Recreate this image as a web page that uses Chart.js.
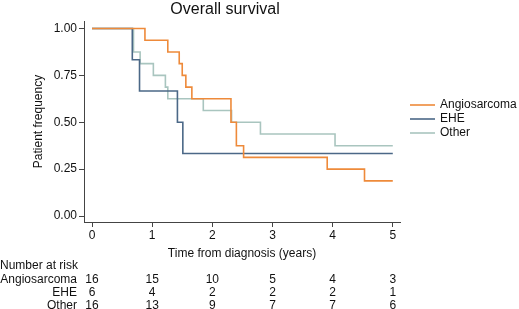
<!DOCTYPE html>
<html>
<head>
<meta charset="utf-8">
<script src="https://cdn.jsdelivr.net/npm/chart.js@4.4.1/dist/chart.umd.min.js"></script>
<style>
    html, body { margin: 0; padding: 0; background: #fff; }
    #wrap { width: 519px; height: 309px; position: relative; }
</style>
</head>
<body>
<div id="wrap"><canvas id="kmChart"></canvas></div>
<script>
// Kaplan-Meier steps
const angioTimes = [0, 0.88, 1.26, 1.45, 1.50, 1.56, 1.66, 2.31, 2.40, 2.52, 3.91, 4.53, 5.0];
const angioSurv = [1, 0.9375, 0.875, 0.8125, 0.75, 0.6875, 0.625, 0.5, 0.375, 0.3125, 0.25, 0.1875, 0.1875];

const eheTimes = [0, 0.67, 0.79, 1.42, 1.51, 5.0];
const eheSurv = [1, 0.8333, 0.6667, 0.5, 0.3333, 0.3333];

const otherTimes = [0, 0.69, 0.80, 1.02, 1.22, 1.26, 1.85, 2.32, 2.80, 4.04, 5.0];
const otherSurv = [1, 0.875, 0.8125, 0.75, 0.6875, 0.625, 0.5625, 0.5, 0.4375, 0.375, 0.375];

// number at risk table
const riskTimes = [0, 1, 2, 3, 4, 5];
const riskAngio = [16, 15, 10, 5, 4, 3];
const riskEHE = [6, 4, 2, 2, 2, 1];
const riskOther = [16, 13, 9, 7, 7, 6];

const groupNames = ['Angiosarcoma', 'EHE', 'Other'];
const groupColors = ['#ee8a3a', '#4b6887', '#a9c5bf'];

const xTicks = [0, 1, 2, 3, 4, 5];
const yTicks = [0, 0.25, 0.5, 0.75, 1];

const FONT = '"Liberation Sans", Arial, sans-serif';
const TEXT = '#111';

function toPoints(times, surv) {
    return times.map(function (t, i) { return { x: t, y: surv[i] }; });
}

function makeSet(name, times, surv, color) {
    return {
        label: name,
        data: toPoints(times, surv),
        borderColor: color,
        borderWidth: 1.6,
        stepped: 'before',
        pointRadius: 0,
        fill: false
    };
}

// title, legend and at-risk table
const extras = {
    id: 'extras',
    afterDraw: function (chart) {
        const ctx = chart.ctx;
        const xs = chart.scales.x;
        ctx.save();
        ctx.fillStyle = TEXT;

        ctx.font = '16px ' + FONT;
        ctx.textAlign = 'center';
        ctx.textBaseline = 'middle';
        ctx.fillText('Overall survival', 225, 10);

        // legend
        ctx.font = '12px ' + FONT;
        ctx.textAlign = 'left';
        const legY = [105, 119, 133];
        groupNames.forEach(function (name, i) {
            ctx.strokeStyle = groupColors[i];
            ctx.lineWidth = 1.6;
            ctx.beginPath();
            ctx.moveTo(410, legY[i]);
            ctx.lineTo(435, legY[i]);
            ctx.stroke();
            ctx.fillText(name, 440, legY[i]);
        });

        // at-risk
        ctx.textAlign = 'left';
        ctx.fillText('Number at risk', 0, 266);
        const rows = [riskAngio, riskEHE, riskOther];
        const rowY = [280, 293, 306];
        rows.forEach(function (vals, r) {
            ctx.textAlign = 'right';
            ctx.fillText(groupNames[r], 77, rowY[r]);
            ctx.textAlign = 'center';
            vals.forEach(function (v, i) {
                ctx.fillText(String(v), xs.getPixelForValue(riskTimes[i]), rowY[r]);
            });
        });
        ctx.restore();
    }
};

const config = {
    type: 'line',
    data: {
        datasets: [
            makeSet(groupNames[0], angioTimes, angioSurv, groupColors[0]),
            makeSet(groupNames[1], eheTimes, eheSurv, groupColors[1]),
            makeSet(groupNames[2], otherTimes, otherSurv, groupColors[2])
        ]
    },
    options: {
        responsive: false,
        animation: false,
        layout: {
            padding: { left: 31, right: 119, top: 21, bottom: 48 }
        },
        scales: {
            x: {
                type: 'linear',
                min: -0.133,
                max: 5.12,
                afterFit: function (s) { s.height = 39; },
                afterBuildTicks: function (s) {
                    s.ticks = xTicks.map(function (v) { return { value: v }; });
                },
                ticks: {
                    color: TEXT,
                    padding: 1,
                    font: { family: FONT, size: 12 },
                    callback: function (v) { return String(v); }
                },
                grid: {
                    drawOnChartArea: false,
                    drawTicks: true,
                    tickLength: 5,
                    color: '#444'
                },
                border: { display: true, color: '#444', width: 1 },
                title: {
                    display: true,
                    text: 'Time from diagnosis (years)',
                    color: TEXT,
                    font: { family: FONT, size: 12 },
                    padding: { top: 3, bottom: 0 }
                }
            },
            y: {
                type: 'linear',
                min: -0.032,
                max: 1.04,
                afterFit: function (s) { s.width = 53; },
                afterBuildTicks: function (s) {
                    s.ticks = yTicks.map(function (v) { return { value: v }; });
                },
                ticks: {
                    color: TEXT,
                    padding: 2,
                    font: { family: FONT, size: 12 },
                    callback: function (v) { return Number(v).toFixed(2); }
                },
                grid: {
                    drawOnChartArea: false,
                    drawTicks: true,
                    tickLength: 5,
                    color: '#444'
                },
                border: { display: true, color: '#444', width: 1 },
                title: {
                    display: true,
                    text: 'Patient frequency',
                    color: TEXT,
                    font: { family: FONT, size: 12 },
                    padding: { top: 0, bottom: 4 }
                }
            }
        },
        plugins: {
            legend: { display: false },
            title: { display: false },
            tooltip: { enabled: false }
        }
    },
    plugins: [extras]
};

const canvas = document.getElementById('kmChart');
canvas.width = 519;
canvas.height = 309;
const kmChart = new Chart(canvas, config);
</script>
</body>
</html>
